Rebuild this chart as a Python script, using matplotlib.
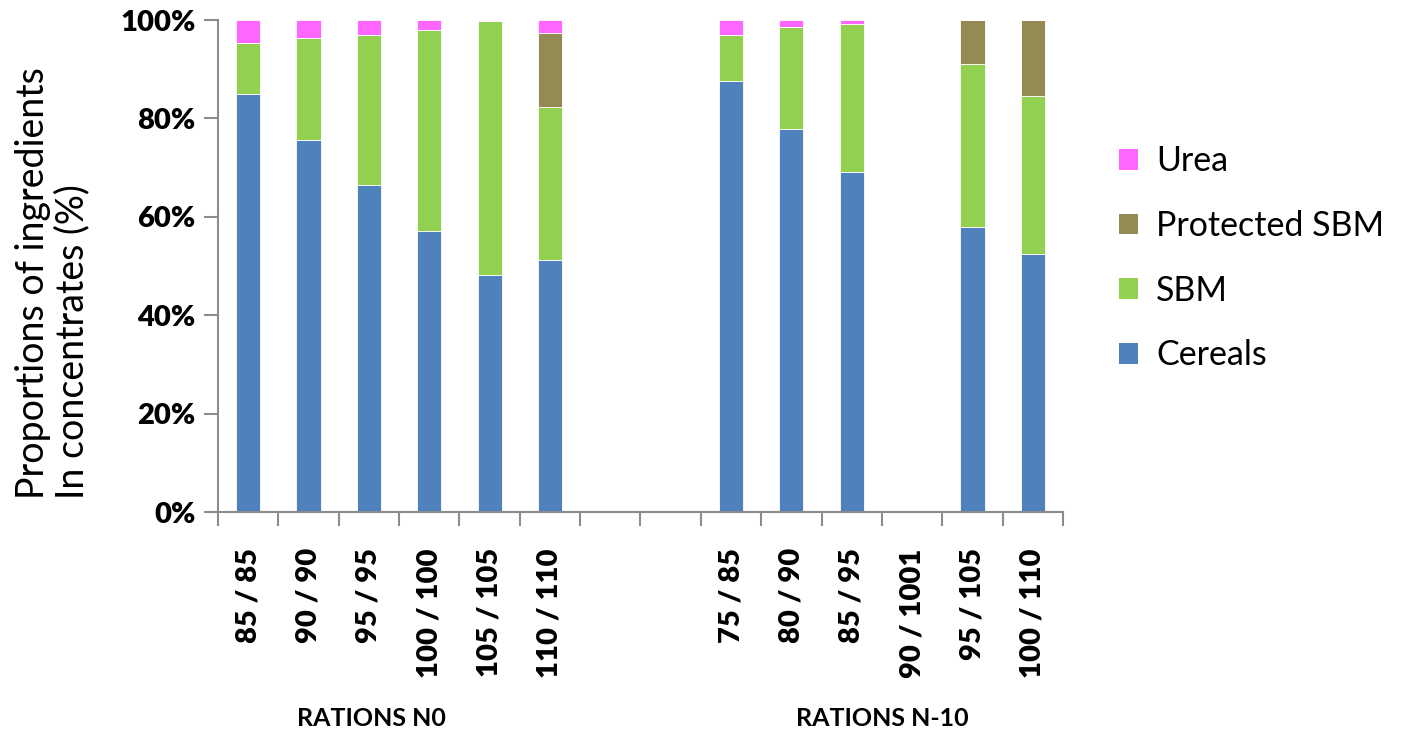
import numpy as np
import matplotlib
matplotlib.use("Agg")
import matplotlib.pyplot as plt
from matplotlib.patches import Patch
from matplotlib.ticker import FuncFormatter, FixedLocator

plt.rcParams["font.family"] = ["Lato", "DejaVu Sans"]

# ration labels (two empty slots separate the N0 and N-10 groups)
rations = ["85 / 85", "90 / 90", "95 / 95", "100 / 100", "105 / 105", "110 / 110",
           "", "",
           "75 / 85", "80 / 90", "85 / 95", "90 / 1001", "95 / 105", "100 / 110"]

# share of each ingredient in the concentrate, in %
cereals = [85.0, 75.7, 66.5, 57.2, 48.1, 51.3, 0, 0, 87.7, 77.9, 69.2, 0, 57.9, 52.4]
sbm = [10.3, 20.7, 30.4, 40.8, 51.6, 31.1, 0, 0, 9.2, 20.6, 29.9, 0, 33.1, 32.1]
protected_sbm = [0, 0, 0, 0, 0, 15.0, 0, 0, 0, 0, 0, 0, 9.0, 15.5]
urea = [4.7, 3.6, 3.1, 2.0, 0.3, 2.6, 0, 0, 3.1, 1.5, 0.9, 0, 0, 0]

groups = ["RATIONS N0", "RATIONS N-10"]

series = [
    ("Cereals", cereals, "#4F81BD"),
    ("SBM", sbm, "#92D050"),
    ("Protected SBM", protected_sbm, "#948A54"),
    ("Urea", urea, "#FF66FF"),
]

fig = plt.figure(figsize=(14.23, 7.36), dpi=100)
ax = fig.add_axes([0.1532, 0.3043, 0.5938, 0.6685])

x = np.arange(len(rations))
bottom = np.zeros(len(rations))
for name, vals, color in series:
    vals = np.array(vals, dtype=float)
    ax.bar(x, vals, width=0.4, bottom=bottom, color=color,
           edgecolor="white", linewidth=0.6, label=name)
    bottom += vals

ax.set_xlim(-0.5, len(rations) - 0.5)
ax.set_ylim(0, 100)

grey = "#8C8C8C"
for side in ["top", "right"]:
    ax.spines[side].set_visible(False)
for side in ["left", "bottom"]:
    ax.spines[side].set_color(grey)
    ax.spines[side].set_linewidth(1.5)

# y axis
ax.set_yticks(np.arange(0, 101, 20))
ax.yaxis.set_major_formatter(FuncFormatter(lambda v, _: f"{v:.0f}%"))
ax.tick_params(axis="y", length=10, width=1.5, color=grey, pad=6,
               labelsize=21)
for lbl in ax.get_yticklabels():
    lbl.set_fontweight("heavy")

# x axis: labels at bar centres, tick marks on slot boundaries
ax.set_xticks(x)
ax.set_xticklabels(rations, rotation=90, fontsize=21, fontweight="heavy")
ax.tick_params(axis="x", which="major", length=0, pad=26)
ax.xaxis.set_minor_locator(FixedLocator(np.arange(-0.5, len(rations), 1.0)))
ax.tick_params(axis="x", which="minor", length=10, width=1.5, color=grey)

# axis title, both lines starting from the same baseline end
fig.text(0.037, 0.615, "Proportions of ingredients\nIn concentrates (%)",
         rotation=90, ha="center", va="center", multialignment="left",
         fontsize=27, linespacing=1.12)

# group captions under the tick labels
ax.text(2.05, -0.42, groups[0], transform=ax.get_xaxis_transform(),
        ha="center", va="center", fontsize=18, fontweight="bold")
ax.text(10.5, -0.42, groups[1], transform=ax.get_xaxis_transform(),
        ha="center", va="center", fontsize=18, fontweight="bold")

handles = [Patch(facecolor=c, edgecolor="none", label=n) for n, _, c in series[::-1]]
fig.legend(handles=handles, loc="upper left", bbox_to_anchor=(0.765, 0.844),
           frameon=False, fontsize=24.5, handlelength=0.55, handleheight=0.55,
           handletextpad=0.53, labelspacing=0.96)

fig.savefig("out.png", dpi=100)
